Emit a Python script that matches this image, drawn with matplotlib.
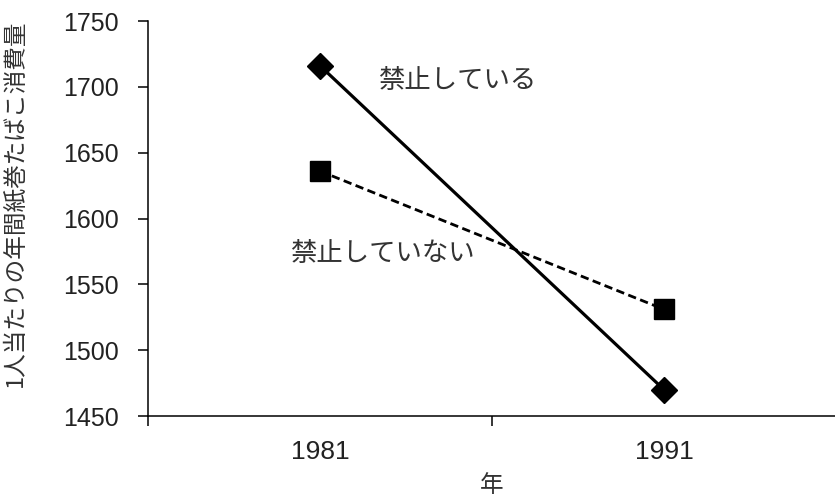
import matplotlib
matplotlib.use("Agg")
import matplotlib.pyplot as plt

# per-capita annual cigarette consumption, with / without a ban
years = ["1981", "1991"]
banned = [1716, 1470]
not_banned = [1636, 1531]

label_banned = "禁止している"
label_not_banned = "禁止していない"
ylabel = "1人当たりの年間紙巻たばこ消費量"
xlabel = "年"

jp = ["Noto Sans CJK JP", "DejaVu Sans"]
num = ["Liberation Sans", "DejaVu Sans"]
num_narrow = ["Liberation Sans Narrow", "Liberation Sans", "DejaVu Sans"]

fig = plt.figure(figsize=(8.35, 4.98), dpi=100)
ax = fig.add_axes([148 / 835, 82 / 498, 688 / 835, 395 / 498])

x = [1, 2]
ax.plot(x, banned, color="black", lw=2.3, marker="D", ms=13, zorder=3)
ax.plot(x, not_banned, color="black", lw=2.0, linestyle=(0, (3.0, 1.6)),
        marker="s", ms=14.5, zorder=3)

ax.set_xlim(0.5, 2.5)
ax.set_ylim(1450, 1750)
ax.set_yticks(range(1450, 1751, 50))
for t in ax.get_yticklabels():
    t.set_family(num)
    t.set_fontsize(18)
    t.set_color("#222222")

# category boundaries get the tick marks, labels sit in between
ax.set_xticks([0.5, 1.5, 2.5])
ax.set_xticklabels(["", "", ""])
ax.set_xticks(x, minor=True)
ax.set_xticklabels(years, minor=True, family=num_narrow, fontsize=19,
                   color="#222222")
ax.tick_params(axis="x", which="minor", length=0, pad=17)
ax.tick_params(axis="x", which="major", length=7, width=1.1, direction="out")
ax.tick_params(axis="y", length=7, width=1.1, direction="out", pad=14)

for side in ["top", "right"]:
    ax.spines[side].set_visible(False)
for side in ["left", "bottom"]:
    ax.spines[side].set_linewidth(1.1)
    ax.spines[side].set_clip_on(False)

ax.text(1.169, 1704.5, label_banned, family=jp, fontsize=19,
        color="#333333", ha="left", va="center")
ax.text(0.913, 1573.5, label_not_banned, family=jp, fontsize=19,
        color="#333333", ha="left", va="center")

fig.text(15 / 835, 1 - 203 / 498, ylabel, family=jp, fontsize=17,
         color="#333333", rotation=90, ha="center", va="center")
fig.text(492 / 835, 1 - 485 / 498, xlabel, family=jp, fontsize=17,
         color="#333333", ha="center", va="center")

fig.savefig("out.png", dpi=100)
